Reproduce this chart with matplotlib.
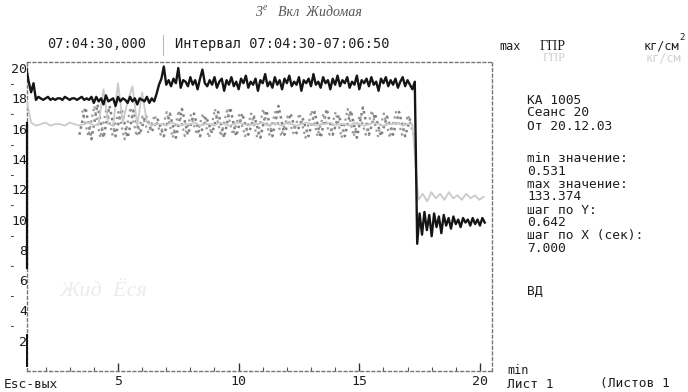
import numpy as np
import matplotlib
matplotlib.use("Agg")
import matplotlib.pyplot as plt

# --- series data (minutes on X, kg/cm^2 on Y) ---
black_start, black_step = 1.2, 0.1
black_vals = [
    # before the step-up
    20.0, 19.1, 18.4, 19.0, 17.9, 18.1, 18.0, 17.9, 18.0, 18.1, 17.9, 18.0, 17.9, 18.0,
    18.0, 17.9, 18.1, 18.0, 17.9, 18.0, 18.0, 17.9, 18.0, 18.1, 17.9, 18.0, 17.9, 18.1,
    17.7, 18.1, 17.8, 18.0, 17.6, 18.2, 17.8, 17.9, 18.0, 17.5, 18.1, 17.8, 18.0, 17.9,
    17.7, 18.1, 17.8, 18.0, 17.6, 18.0, 17.9, 17.8, 18.1, 17.7, 18.0, 17.8, 18.3,
    # high plateau
    18.9, 19.3, 20.1, 18.9, 19.2, 18.8, 19.3, 19.0, 20.0, 18.7, 19.2, 19.1, 18.8, 19.4,
    18.9, 19.2, 18.6, 19.3, 19.9, 19.0, 18.8, 19.2, 18.9, 19.4, 18.7, 19.1, 19.3, 18.5,
    19.2, 18.9, 19.4, 18.8, 19.1, 18.6, 19.3, 19.0, 19.5, 18.7, 19.1, 18.9, 19.3, 18.5,
    19.2, 19.0, 19.6, 18.8, 19.1, 18.7, 19.4, 18.9, 19.2, 18.6, 19.3, 19.0, 19.5, 18.8,
    19.1, 18.9, 19.4, 18.5, 19.2, 19.0, 19.3, 18.8, 19.6, 18.9, 19.1, 18.7, 19.4, 19.0,
    19.2, 18.6, 19.3, 18.9, 19.5, 18.8, 19.2, 19.0, 19.4, 18.7, 19.1, 18.9, 19.5, 18.6,
    19.2, 19.0, 19.3, 18.8, 19.4, 18.9, 19.1, 18.5, 19.3, 19.0, 19.4, 18.8, 19.2, 18.9,
    19.3, 18.7, 19.1, 19.4, 18.8, 19.2, 18.9, 18.6, 19.1,
    # after the drop
    8.4, 10.4, 9.0, 10.5, 9.3, 10.3, 8.9, 10.4, 9.5, 10.2, 9.1, 10.3, 9.6, 10.1,
    9.4, 10.2, 9.7, 10.0, 9.5, 10.1, 9.8, 10.0, 9.6, 10.1, 9.7, 10.0, 9.6, 10.1, 9.8,
]

gray_start, gray_step = 1.2, 0.2
gray_vals = [
    18.0, 16.4, 16.2, 16.3, 16.4, 16.2, 16.3, 16.3, 16.2, 16.4, 16.3, 16.2, 16.3, 16.4,
    16.2, 16.3, 18.6, 16.3, 16.2, 19.0, 16.4, 17.8, 18.8, 16.2, 18.4, 16.4, 16.2, 16.3,
    16.3, 16.2, 16.4, 16.3, 16.2, 16.3, 16.3, 16.4, 16.2, 16.3, 16.3, 16.2, 16.4, 16.3,
    16.2, 16.3, 16.4, 16.3, 16.2, 16.3, 16.3, 16.4, 16.2, 16.3, 16.3, 16.2, 16.4, 16.3,
    16.2, 16.3, 16.4, 16.3, 16.2, 16.3, 16.3, 16.4, 16.2, 16.3, 16.3, 16.2, 16.4, 16.3,
    16.2, 16.3, 16.4, 16.3, 16.2, 16.3, 16.3, 16.4, 16.2, 16.3, 16.3,
    # after the drop
    11.3, 11.7, 11.2, 11.8, 11.4, 11.7, 11.3, 11.8, 11.4, 11.6, 11.3, 11.7, 11.4, 11.6,
    11.3, 11.5,
]

dots_start, dots_step = 3.4, 0.25
dots_vals = [
    15.6, 17.4, 15.3, 17.6, 15.4, 17.5, 15.5, 17.3, 15.4, 17.2, 15.6, 16.9, 15.8, 16.6,
    15.5, 17.0, 15.4, 17.3, 15.6, 17.0, 15.5, 16.8, 15.7, 17.1, 15.4, 17.4, 15.5, 17.0,
    15.6, 16.8, 15.4, 17.2, 15.5, 17.5, 15.6, 17.0, 15.7, 16.7, 15.5, 17.1, 15.4, 17.3,
    15.6, 16.9, 15.5, 17.2, 15.4, 17.4, 15.6, 17.0, 15.5, 16.8, 15.6, 17.1, 15.5, 16.9,
]
dots2_start, dots2_step = 3.52, 0.25
dots2_vals = [
    17.2, 15.5, 17.5, 15.4, 17.3, 15.6, 17.1, 15.3, 17.4, 15.5, 16.8, 15.7, 16.9, 15.6,
    17.1, 15.4, 17.2, 15.5, 16.9, 15.6, 17.0, 15.4, 17.3, 15.5, 17.2, 15.6, 16.9, 15.5,
    17.0, 15.4, 17.3, 15.6, 17.1, 15.5, 16.8, 15.7, 17.0, 15.4, 17.2, 15.5, 17.0, 15.6,
    17.1, 15.4, 17.3, 15.5, 16.9, 15.6, 17.2, 15.5, 17.0, 15.4, 17.1, 15.6, 16.9, 15.5,
]

y_major = [2, 4, 6, 8, 10, 12, 14, 16, 18, 20]
y_minor = [3, 5, 7, 9, 11, 13, 15, 17, 19]
x_major = [5, 10, 15, 20]
x_minor = list(range(2, 21))

side_lines = [
    ("КА 1005", 100), ("Сеанс 20", 113), ("От 20.12.03", 127),
    ("min значение:", 158), ("0.531", 171), ("max значение:", 184),
    ("133.374", 197), ("шаг по Y:", 210), ("0.642", 223),
    ("шаг по X (сек):", 236), ("7.000", 249), ("ВД", 291),
]

W, H = 688, 392
MONO = ["DejaVu Sans Mono"]
INK = "#1e1e1e"

fig = plt.figure(figsize=(W / 100, H / 100), dpi=100)
fig.patch.set_facecolor("white")


def px(x, y):
    return x / W, 1 - y / H


def ftext(x, y, s, **kw):
    kw.setdefault("family", MONO)
    kw.setdefault("fontsize", 9)
    kw.setdefault("color", INK)
    kw.setdefault("va", "center")
    fig.text(*px(x, y), s, **kw)


ax = fig.add_axes([27 / W, 21 / H, (492 - 27) / W, (371 - 62) / H])
ax.set_xlim(1.23, 20.5)
ax.set_ylim(0, 20.4)
ax.set_facecolor("white")

for side in ("top", "bottom", "right", "left"):
    ax.spines[side].set_linestyle((0, (2, 2)))
    ax.spines[side].set_color("#777777")
    ax.spines[side].set_linewidth(1.0)
# solid part of the left axis
ax.plot([1.23, 1.23], [6.8, 16.4], color="#111111", lw=1.6, clip_on=False, zorder=5)
ax.plot([1.23, 1.23], [0.3, 2.4], color="#111111", lw=1.4, clip_on=False, zorder=5)

# dotted band series
xd = dots_start + dots_step * np.arange(len(dots_vals))
ax.plot(xd, dots_vals, color="#808080", lw=1.8, ls=(0, (1, 1.4)), zorder=2)
xd2 = dots2_start + dots2_step * np.arange(len(dots2_vals))
ax.plot(xd2, dots2_vals, color="#9a9a9a", lw=1.6, ls=(0, (1, 1.6)), zorder=2)

# light gray series
xg_first = gray_start + gray_step * np.arange(81)
xg_after = 17.45 + 0.18 * np.arange(len(gray_vals) - 81)
xg = np.concatenate([xg_first, xg_after])
ax.plot(xg, gray_vals, color="#cacaca", lw=1.3, zorder=3)

# dark series
xb = black_start + black_step * np.arange(len(black_vals))
ax.plot(xb, black_vals, color="#151515", lw=1.7, zorder=4)

# ticks
ax.set_yticks(y_major)
ax.set_yticklabels([str(v) for v in y_major], family=MONO, fontsize=9.5, color=INK)
ax.set_yticks(y_minor, minor=True)
ax.set_yticklabels(["-"] * len(y_minor), minor=True, family=MONO, fontsize=8, color=INK)
ax.tick_params(axis="y", which="both", length=0, pad=0)
ax.tick_params(axis="y", which="minor", pad=9)

ax.set_xticks(x_major)
ax.set_xticklabels([str(v) for v in x_major], family=MONO, fontsize=9.5, color=INK)
ax.set_xticks(x_minor, minor=True)
ax.tick_params(axis="x", which="major", direction="in", length=6, width=1.0, color="#333", pad=3)
ax.tick_params(axis="x", which="minor", direction="in", length=3, width=0.8, color="#555")

# header
ftext(255, 12, "3", family=["Liberation Serif"], style="italic", fontsize=10, color="#555")
ftext(263, 8, "е", family=["Liberation Serif"], style="italic", fontsize=7, color="#555")
ftext(278, 12, "Вкл  Жидомая", family=["Liberation Serif"], style="italic",
      fontsize=10, color="#555")
ftext(47, 44, "07:04:30,000", fontsize=9.8)
fig.add_artist(plt.Line2D([163 / W, 163 / W], [1 - 55 / H, 1 - 35 / H],
                          color="#bbbbbb", lw=0.8))
ftext(175, 44, "Интервал 07:04:30-07:06:50", fontsize=9.8)

# legend block on the right
ftext(499, 46, "max", fontsize=8.5)
ftext(540, 46, "ГПР", family=["Liberation Serif"], fontsize=10)
ftext(644, 46, "кг/см", fontsize=8.5)
ftext(679, 37, "2", fontsize=6.5)
ftext(543, 58, "ГПР", family=["Liberation Serif"], fontsize=9, color="#d0d0d0")
ftext(646, 58, "кг/см", fontsize=8.5, color="#d0d0d0")

for s, y in side_lines:
    ftext(527, y, s, fontsize=9.3)

# footer
ftext(4, 384, "Esc-вых", fontsize=9.3)
ftext(507, 371, "min", fontsize=8.5)
ftext(507, 384, "Лист 1", fontsize=9.3)
ftext(600, 384, "(Листов 1", fontsize=9.3)

# faint pencil note inside the plot
ftext(60, 292, "Жид  Ёся", family=["Liberation Serif"], style="italic",
      fontsize=16, color="#ececec")

fig.savefig("out.png", dpi=100, facecolor="white")
